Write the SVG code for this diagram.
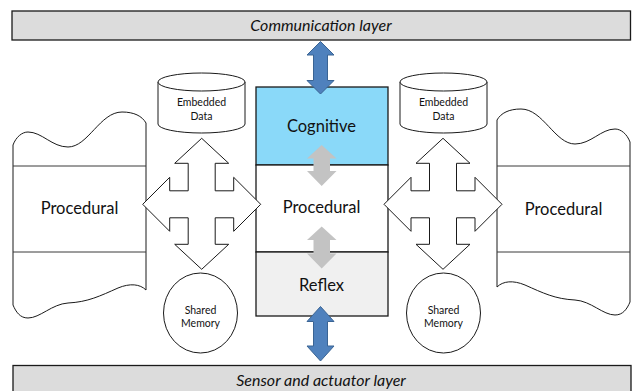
<svg xmlns="http://www.w3.org/2000/svg" width="632" height="391" viewBox="0 0 632 391">
  <style>
    .bar { fill: #dcdcdc; stroke: #1a1a1a; stroke-width: 1.3; }
    .box { stroke: #1a1a1a; stroke-width: 1.3; }
    .outline { fill: #ffffff; stroke: #1a1a1a; stroke-width: 1; }
    .line { fill: none; stroke: #3a3a3a; stroke-width: 1; }
    .lbl { font-family: Lato, "Liberation Sans", sans-serif; fill: #111111; text-anchor: middle; }
    .big { font-size: 16.5px; }
    .small { font-size: 10.5px; }
    .ital { font-style: italic; font-size: 16px; }
    .blue { fill: #4f81bd; stroke: #3a6494; stroke-width: 1; }
    .grey { fill: #c3c3c3; }
  </style>
  <defs>
    <!-- four-way arrow centred on the origin -->
    <path id="quad" d="M0,-66 L27,-41 L13.5,-41 L13.5,-13.5 L32,-13.5 L32,-27 L59,0 L32,27 L32,13.5 L13.5,13.5 L13.5,40 L27,40 L0,65 L-27,40 L-13.5,40 L-13.5,13.5 L-32,13.5 L-32,27 L-59,0 L-32,-27 L-32,-13.5 L-13.5,-13.5 L-13.5,-41 L-27,-41 Z"/>
    <!-- wavy tape outline of the side blocks -->
    <path id="tape" d="M13,145 C16,137 22,132 28,132 C42,132 52,147 68,147 C88,147 100,112 122,112 C134,112 142,116 146,123 L146,290 C140,284 130,283 118,288 C100,296 88,302 68,303 C52,304 40,318 28,318 C20,318 16,312 13,305 Z"/>
  </defs>

  <!-- layer bars -->
  <g id="communication-layer">
    <rect class="bar" x="12" y="11" width="618.5" height="29"/>
    <text class="lbl ital" x="321" y="31">Communication layer</text>
  </g>
  <g id="sensor-layer">
    <rect class="bar" x="13" y="365.5" width="618" height="30"/>
    <text class="lbl ital" x="321" y="386">Sensor and actuator layer</text>
  </g>

  <!-- side procedural blocks -->
  <g id="left-procedural">
    <use href="#tape" class="outline"/>
    <line class="line" x1="13" y1="166" x2="146" y2="166"/>
    <line class="line" x1="13" y1="252" x2="146" y2="252"/>
    <text class="lbl big" x="79.5" y="214">Procedural</text>
  </g>
  <g id="right-procedural">
    <use href="#tape" class="outline" transform="translate(643,-3) scale(-1,1)"/>
    <line class="line" x1="497" y1="166" x2="630" y2="166"/>
    <line class="line" x1="497" y1="252" x2="630" y2="252"/>
    <text class="lbl big" x="563.5" y="215">Procedural</text>
  </g>

  <!-- central stack -->
  <g id="cognitive">
    <rect class="box" x="256" y="87" width="132" height="78" fill="#8ad9f9"/>
    <text class="lbl big" x="321.5" y="132">Cognitive</text>
  </g>
  <g id="procedural">
    <rect class="box" x="256" y="165" width="132" height="87" fill="#ffffff"/>
    <text class="lbl big" x="321.5" y="213">Procedural</text>
  </g>
  <g id="reflex">
    <rect class="box" x="256" y="252" width="132" height="64" fill="#f0f0f0"/>
    <text class="lbl big" x="321.5" y="291">Reflex</text>
  </g>

  <!-- embedded data stores -->
  <g id="left-embedded">
    <path class="outline" d="M158,82 L158,124 A43.5,9 0 0 0 245,124 L245,82"/>
    <ellipse class="outline" cx="201.5" cy="82" rx="43.5" ry="9"/>
    <text class="lbl small" x="201.5" y="106">Embedded</text>
    <text class="lbl small" x="201.5" y="120">Data</text>
  </g>
  <g id="right-embedded">
    <path class="outline" d="M400,82 L400,124 A43.5,9 0 0 0 487,124 L487,82"/>
    <ellipse class="outline" cx="443.5" cy="82" rx="43.5" ry="9"/>
    <text class="lbl small" x="443.5" y="106">Embedded</text>
    <text class="lbl small" x="443.5" y="120">Data</text>
  </g>

  <!-- shared memory -->
  <g id="left-shared">
    <ellipse class="outline" cx="200.5" cy="313" rx="37" ry="40"/>
    <text class="lbl small" x="200.5" y="314">Shared</text>
    <text class="lbl small" x="200.5" y="327">Memory</text>
  </g>
  <g id="right-shared">
    <ellipse class="outline" cx="443.5" cy="313" rx="37" ry="40"/>
    <text class="lbl small" x="443.5" y="314">Shared</text>
    <text class="lbl small" x="443.5" y="327">Memory</text>
  </g>

  <!-- connectors -->
  <g id="connectors">
    <use href="#quad" class="outline" transform="translate(201.7,204.3)"/>
    <use href="#quad" class="outline" transform="translate(443,204.3)"/>
    <path class="blue" d="M320.5,41.5 L334,55 L327.5,55 L327.5,80.5 L334,80.5 L320.5,94 L307,80.5 L313.5,80.5 L313.5,55 L307,55 Z"/>
    <path class="blue" d="M320.5,306.5 L334,321.5 L327.5,321.5 L327.5,346 L334,346 L320.5,361 L307,346 L313.5,346 L313.5,321.5 L307,321.5 Z"/>
    <path class="grey" d="M321.7,145 L336.5,158.5 L330,158.5 L330,171 L336.5,171 L321.7,186 L307,171 L313.5,171 L313.5,158.5 L307,158.5 Z"/>
    <path class="grey" d="M321.7,226.5 L336.5,240 L330,240 L330,253.5 L336.5,253.5 L321.7,268.5 L307,253.5 L313.5,253.5 L313.5,240 L307,240 Z"/>
  </g>
</svg>
